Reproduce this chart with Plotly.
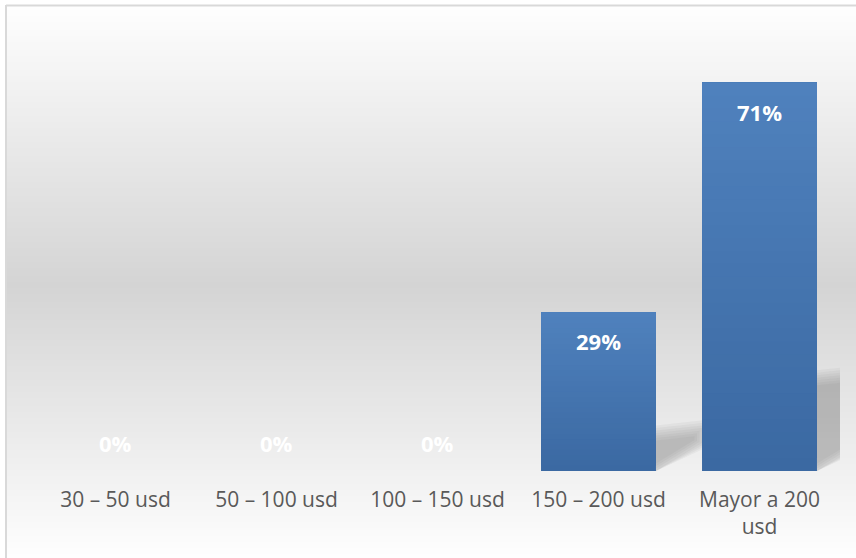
import plotly.graph_objects as go

# ---- data ----
categories = ["30 – 50 usd", "50 – 100 usd", "100 – 150 usd", "150 – 200 usd", "Mayor a 200<br>usd"]
values = [0, 0, 0, 29, 71]
labels = ["0%", "0%", "0%", "29%", "71%"]

W, H = 856, 558

def px_x(x):
    return x / W

def px_y(y):
    return 1 - y / H

def lerp(c1, c2, t):
    return "rgb(%d,%d,%d)" % tuple(round(a + (b - a) * t) for a, b in zip(c1, c2))

# geometry of the plot
x_left, x_right = 35, 840
base_px = 471
px_per_unit = 5.47
y_max = 75
top_px = base_px - y_max * px_per_unit
bargap = 0.286
cat_px = (x_right - x_left) / len(categories)

fig = go.Figure()

# bars with vertical gradient (dark bottom -> light top), built from values
dark = (59, 105, 162)
light = (79, 129, 189)
N = 30
for k in range(N):
    t = k / (N - 1)
    fig.add_trace(go.Bar(
        x=categories,
        y=[v * (1 - k / N) for v in values],
        base=[v * k / N for v in values],
        marker=dict(color=lerp(dark, light, t), line=dict(width=0)),
        hoverinfo="skip",
        showlegend=False,
    ))

# data labels
for c, v, lab in zip(categories, values, labels):
    fig.add_annotation(
        x=c, y=v, xref="x", yref="y",
        text=lab, showarrow=False,
        yanchor="middle",
        yshift=-29 if v > 0 else 28,
        font=dict(family="Open Sans", size=22, color="white", weight="bold"),
    )

shapes = []
# background gradient: white top -> gray middle -> white bottom
top_c = (254, 254, 254)
mid_c = (212, 212, 212)
bot_c = (254, 254, 254)
y_top, y_mid, y_bot = 6, 285, 558
step = 2
y = y_top
while y < y_bot:
    yc = y + step / 2
    if yc <= y_mid:
        col = lerp(top_c, mid_c, (yc - y_top) / (y_mid - y_top))
    else:
        col = lerp(mid_c, bot_c, (yc - y_mid) / (y_bot - y_mid))
    shapes.append(dict(
        type="rect", xref="paper", yref="paper", layer="below",
        x0=px_x(6), x1=px_x(W), y0=px_y(min(y + step + 0.6, y_bot)), y1=px_y(y),
        fillcolor=col, line=dict(width=0),
    ))
    y += step

# soft perspective shadows behind non-zero bars (derived from bar values)
half = (1 - bargap) / 2
for i, v in enumerate(values):
    if v <= 0:
        continue
    R = i + half
    w_px = 46
    rise_top = 5 / px_per_unit
    rise_bot = 28 / px_per_unit
    h = 0.24 * v
    L = 7
    for j in range(L):
        e = (j - (L - 1) / 2) * 2.5  # px inset (negative = grow)
        ey = e / px_per_unit
        wx = (w_px - e) / cat_px
        frac = (w_px - e) / w_px
        pts = [
            (R, max(ey, 0)),
            (R, h - ey),
            (R + wx, h + rise_top * frac - ey),
            (R + wx, rise_bot * frac + ey),
        ]
        path = "M " + " L ".join("%f,%f" % p for p in pts) + " Z"
        shapes.append(dict(type="path", xref="x", yref="y", layer="below",
                           path=path, fillcolor="rgba(120,120,120,0.07)",
                           line=dict(width=0)))

# chart border (left and top)
shapes.append(dict(type="line", xref="paper", yref="paper", layer="above",
                   x0=px_x(6), x1=px_x(6), y0=px_y(5), y1=px_y(H),
                   line=dict(color="#d9d9d9", width=2)))
shapes.append(dict(type="line", xref="paper", yref="paper", layer="above",
                   x0=px_x(6), x1=px_x(W), y0=px_y(5.5), y1=px_y(5.5),
                   line=dict(color="#d9d9d9", width=2)))

fig.update_layout(
    width=W, height=H,
    autosize=False,
    margin=dict(l=0, r=0, t=0, b=0),
    paper_bgcolor="white",
    plot_bgcolor="rgba(0,0,0,0)",
    barmode="overlay",
    bargap=bargap,
    shapes=shapes,
    xaxis=dict(
        type="category",
        domain=[px_x(x_left), px_x(x_right)],
        range=[-0.5, len(categories) - 0.5],
        showgrid=False, zeroline=False, showline=False,
        ticks="", ticklabelstandoff=14,
        tickfont=dict(family="Open Sans", size=21, color="#595959"),
        automargin=False,
        anchor="y",
        fixedrange=True,
    ),
    yaxis=dict(
        domain=[px_y(base_px), px_y(top_px)],
        range=[0, y_max],
        visible=False,
        showgrid=False, zeroline=False,
        automargin=False,
        fixedrange=True,
    ),
    showlegend=False,
)

fig.write_html(
    "out.html",
    config={"displayModeBar": False, "responsive": False},
    post_script="document.body.style.margin='0px';document.body.style.overflow='hidden';",
)
